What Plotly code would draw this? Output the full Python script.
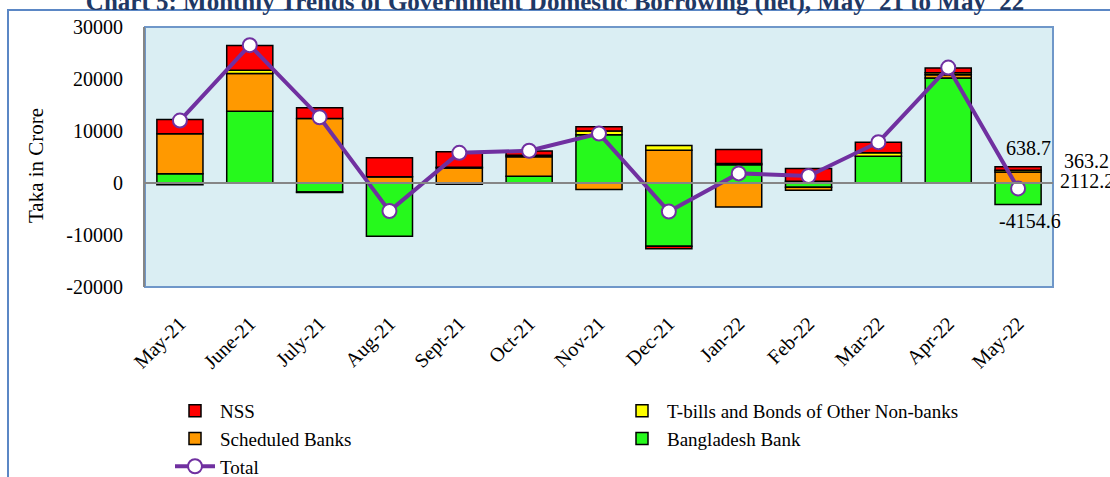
import plotly.graph_objects as go

months = ["May-21", "June-21", "July-21", "Aug-21", "Sept-21", "Oct-21", "Nov-21",
          "Dec-21", "Jan-22", "Feb-22", "Mar-22", "Apr-22", "May-22"]

bangladesh_bank = [1770, 13800, -1750, -10230, -250, 1310, 9300, -12150, 3500, -800, 5150, 20200, -4154.6]
scheduled_banks = [7690, 7260, 12400, 1190, 2900, 3730, -1250, 6300, -4600, -600, 0, 600, 2112.2]
tbills_nonbanks = [-350, 640, -80, 0, 150, 300, 700, 900, 250, 350, 650, 400, 363.2]
nss = [2750, 4740, 2060, 3660, 2950, 800, 800, -500, 2700, 2450, 2050, 900, 638.7]
total = [12000, 26500, 12650, -5400, 5800, 6200, 9500, -5500, 1850, 1350, 7850, 22200, -1040.5]

y_ticks = [-20000, -10000, 0, 10000, 20000, 30000]

FONT = "Liberation Serif, Times New Roman, serif"

W, H = 1110, 477
ML, MR, MT, MB = 145, 57, 27, 190
PW, PH = W - ML - MR, H - MT - MB


def px_x(p):
    return (p - ML) / PW


def px_y(p):
    return (H - MB - p) / PH


fig = go.Figure()

bar_line = dict(color="black", width=1.5)
fig.add_trace(go.Bar(x=months, y=bangladesh_bank, name="Bangladesh Bank", legendrank=4,
                     marker=dict(color="#26F91C", line=bar_line)))
fig.add_trace(go.Bar(x=months, y=scheduled_banks, name="Scheduled Banks", legendrank=3,
                     marker=dict(color="#FF9900", line=bar_line)))
fig.add_trace(go.Bar(x=months, y=tbills_nonbanks, name="T-bills and Bonds of Other Non-banks", legendrank=2,
                     marker=dict(color="#FFFF00", line=bar_line)))
fig.add_trace(go.Bar(x=months, y=nss, name="NSS", legendrank=1,
                     marker=dict(color="#FF0000", line=bar_line)))
fig.add_trace(go.Scatter(x=months, y=total, name="Total", legendrank=5, mode="lines+markers",
                         line=dict(color="#7030A0", width=4),
                         marker=dict(size=14, color="white", line=dict(color="#7030A0", width=2))))

# data labels for the last month
i = len(months) - 1
pos_base = scheduled_banks[i] + tbills_nonbanks[i]
labels = [
    (f"{nss[i]}", pos_base + nss[i], 10, 19, "center"),
    (f"{tbills_nonbanks[i]}", pos_base, 44, 9, "left"),
    (f"{scheduled_banks[i]}", 0, 40, 2, "left"),
    (f"{bangladesh_bank[i]}", bangladesh_bank[i], 12, -16, "center"),
]
for txt, yv, xs, ys, xa in labels:
    fig.add_annotation(x=months[i], y=yv, text=txt, showarrow=False, xshift=xs, yshift=ys,
                       xanchor=xa, yanchor="middle",
                       font=dict(family=FONT, size=20, color="black"))

# y-axis title
fig.add_annotation(xref="paper", yref="paper", x=px_x(36), y=px_y(166), text="Taka in Crore",
                   textangle=-90, showarrow=False, xanchor="center", yanchor="middle",
                   font=dict(family=FONT, size=21, color="black"))

fig.update_layout(
    width=W, height=H,
    margin=dict(l=ML, r=MR, t=MT, b=MB, autoexpand=False),
    barmode="relative", bargap=0.34,
    paper_bgcolor="white", plot_bgcolor="#DAEEF3",
    font=dict(family=FONT, size=20, color="black"),
    title=dict(text="Chart 5: Monthly Trends of Government Domestic Borrowing (net), May '21 to May '22",
               font=dict(family=FONT, size=25, color="#1F3864", weight="bold"),
               x=0.5, xanchor="center", xref="container", yref="container",
               y=1 - 10 / H, yanchor="bottom"),
    showlegend=True,
    legend=dict(orientation="h", x=px_x(170), xanchor="left", y=px_y(392), yanchor="top",
                entrywidth=392, entrywidthmode="pixels", traceorder="normal",
                font=dict(family=FONT, size=19, color="black"), bgcolor="rgba(0,0,0,0)",
                tracegroupgap=0, itemwidth=40),
    xaxis=dict(range=[-0.5, len(months) - 0.5], tickangle=-45, showgrid=False, showline=False,
               ticks="outside", ticklen=16, tickcolor="rgba(0,0,0,0)",
               tickfont=dict(family=FONT, size=20), automargin=False),
    yaxis=dict(range=[-20000, 30000], tickvals=y_ticks, ticktext=[str(v) for v in y_ticks],
               showgrid=False, zeroline=True, zerolinecolor="#868686", zerolinewidth=2,
               showline=True, linecolor="#868686", linewidth=2,
               ticks="outside", ticklen=16, tickcolor="rgba(0,0,0,0)",
               tickfont=dict(family=FONT, size=20), automargin=False),
    shapes=[
        dict(type="rect", xref="paper", yref="paper", x0=0, x1=1, y0=0, y1=1,
             line=dict(color="#6F97C9", width=2), layer="below"),
        dict(type="rect", xref="paper", yref="paper", x0=px_x(8), x1=px_x(1120),
             y0=px_y(490), y1=px_y(10), line=dict(color="#5B87C5", width=2), layer="below"),
    ],
)

try:
    fig.update_yaxes(zerolinelayer="above traces")
except Exception:
    pass

fig.write_html("out.html", config={"displayModeBar": False},
               post_script="document.body.style.margin='0';document.body.style.overflow='hidden';")
